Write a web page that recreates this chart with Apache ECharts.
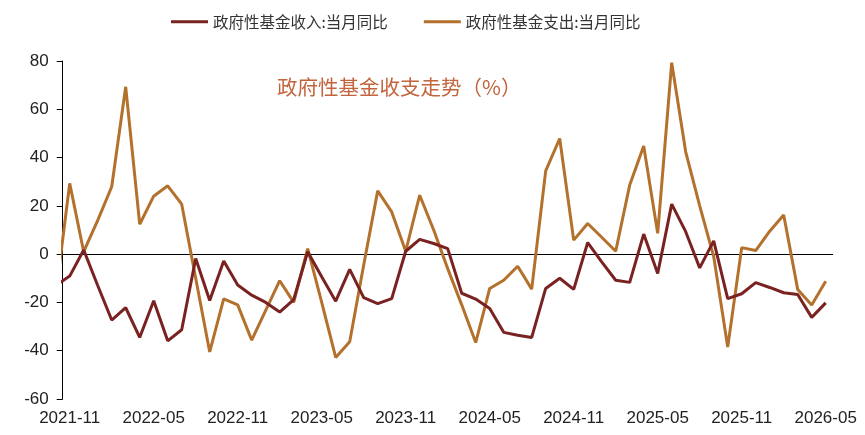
<!DOCTYPE html>
<html>
<head>
<meta charset="UTF-8">
<title>政府性基金收支走势</title>
<script src="https://cdn.jsdelivr.net/npm/echarts@6/dist/echarts.min.js"></script>
<style>html,body,#container{width:100%;height:100%;margin:0;padding:0;background:#fff;}</style>
</head>
<body>
<div id="container"></div>
<script>
// months shown on the axis
var months = [
  '2021-11','2021-12','2022-01','2022-02','2022-03','2022-04','2022-05','2022-06','2022-07','2022-08','2022-09','2022-10',
  '2022-11','2022-12','2023-01','2023-02','2023-03','2023-04','2023-05','2023-06','2023-07','2023-08','2023-09','2023-10',
  '2023-11','2023-12','2024-01','2024-02','2024-03','2024-04','2024-05','2024-06','2024-07','2024-08','2024-09','2024-10',
  '2024-11','2024-12','2025-01','2025-02','2025-03','2025-04','2025-05','2025-06','2025-07','2025-08','2025-09','2025-10',
  '2025-11','2025-12','2026-01','2026-02','2026-03','2026-04','2026-05'
];
// 2021-10 value, only partly visible at the left edge
var incomePrev = -13;
var spendPrev = -17;
// 政府性基金收入:当月同比
var income = [
  -9.1, 1.7, -13, -27.3, -22.2, -34.5, -19.3, -35.9, -31.3, -1.8, -19.2, -2.8,
  -12.8, -17, -20, -24, -18.8, 1, -9.4, -19.5, -6.3, -18, -20.5, -18.4,
  1.2, 6.1, 4.4, 2.3, -16.2, -18.6, -22.5, -32.4, -33.6, -34.5, -14.2, -10,
  -14.6, 4.8, -3.2, -10.8, -11.7, 8.3, -8, 20.7, 9.3, -5.7, 5.5, -18.4,
  -16.4, -11.8, -13.8, -16, -16.7, -26.2, -20.2
];
// 政府性基金支出:当月同比
var spend = [
  29.3, 1, 14, 27.9, 69.3, 12.4, 24, 28.3, 20.7, -10, -40.5, -18.5,
  -21, -35.6, -23.3, -11, -20, 2.3, -20, -42.8, -36.3, -4.5, 26.2, 17.5,
  1.2, 24.4, 10, -6, -21, -36.6, -14.2, -10.8, -5, -14.5, 34.5, 47.9,
  5.8, 12.7, 7, 1.2, 28.6, 44.8, 8.6, 79.3, 42.4, 20, -1, -38.5,
  2.7, 1.5, 9.5, 16.2, -14.6, -21.1, -11.2
];

function toPairs(prev, arr) {
  var out = [[-1, prev]];
  for (var i = 0; i < arr.length; i++) out.push([i, arr[i]]);
  return out;
}

var myChart = echarts.init(document.getElementById('container'));
var numFont = 'Liberation Sans';
var cjkFont = 'Noto Sans CJK SC';

myChart.setOption({
  animation: false,
  backgroundColor: '#fff',
  title: {
    text: '政府性基金收支走势（%）',
    left: 272,
    top: 72,
    textStyle: { color: '#C2643D', fontSize: 20.5, fontWeight: 'normal', fontFamily: cjkFont }
  },
  legend: {
    left: 166,
    top: 9,
    icon: 'rect',
    itemWidth: 37,
    itemHeight: 3,
    itemGap: 36,
    textStyle: { color: '#333', fontSize: 15.5, fontFamily: cjkFont },
    data: ['政府性基金收入:当月同比', '政府性基金支出:当月同比']
  },
  grid: { left: 62.7, right: 32.3, top: 61, bottom: 36 },
  xAxis: [
    {
      type: 'category',
      data: months,
      boundaryGap: true,
      axisLine: { onZero: true, lineStyle: { color: '#000', width: 1 } },
      axisTick: { interval: 5, length: 5, lineStyle: { color: '#000' } },
      axisLabel: { show: false },
      splitLine: { show: false }
    },
    {
      type: 'category',
      data: months,
      boundaryGap: true,
      position: 'bottom',
      axisLine: { show: false, onZero: false },
      axisTick: { show: false },
      axisLabel: { interval: 5, margin: 11, color: '#222', fontSize: 17, fontFamily: numFont },
      splitLine: { show: false }
    },
    {
      type: 'value',
      min: -0.5,
      max: 54.5,
      show: false,
      splitLine: { show: false }
    }
  ],
  yAxis: {
    type: 'value',
    min: -60,
    max: 80,
    interval: 20,
    axisLine: { show: true, onZero: false, lineStyle: { color: '#000', width: 1 } },
    axisTick: { show: true, length: 6, lineStyle: { color: '#000' } },
    axisLabel: { margin: 14, color: '#222', fontSize: 17, fontFamily: numFont },
    splitLine: { show: false }
  },
  series: [
    {
      name: '政府性基金收入:当月同比',
      type: 'line',
      xAxisIndex: 2,
      data: toPairs(incomePrev, income),
      showSymbol: false,
      symbol: 'none',
      color: '#7A2222',
      lineStyle: { color: '#7A2222', width: 3 },
      z: 3
    },
    {
      name: '政府性基金支出:当月同比',
      type: 'line',
      xAxisIndex: 2,
      data: toPairs(spendPrev, spend),
      showSymbol: false,
      symbol: 'none',
      color: '#B3712D',
      lineStyle: { color: '#B3712D', width: 3 },
      z: 2
    }
  ]
});

window.onresize = function () { myChart.resize(); };
</script>
</body>
</html>
